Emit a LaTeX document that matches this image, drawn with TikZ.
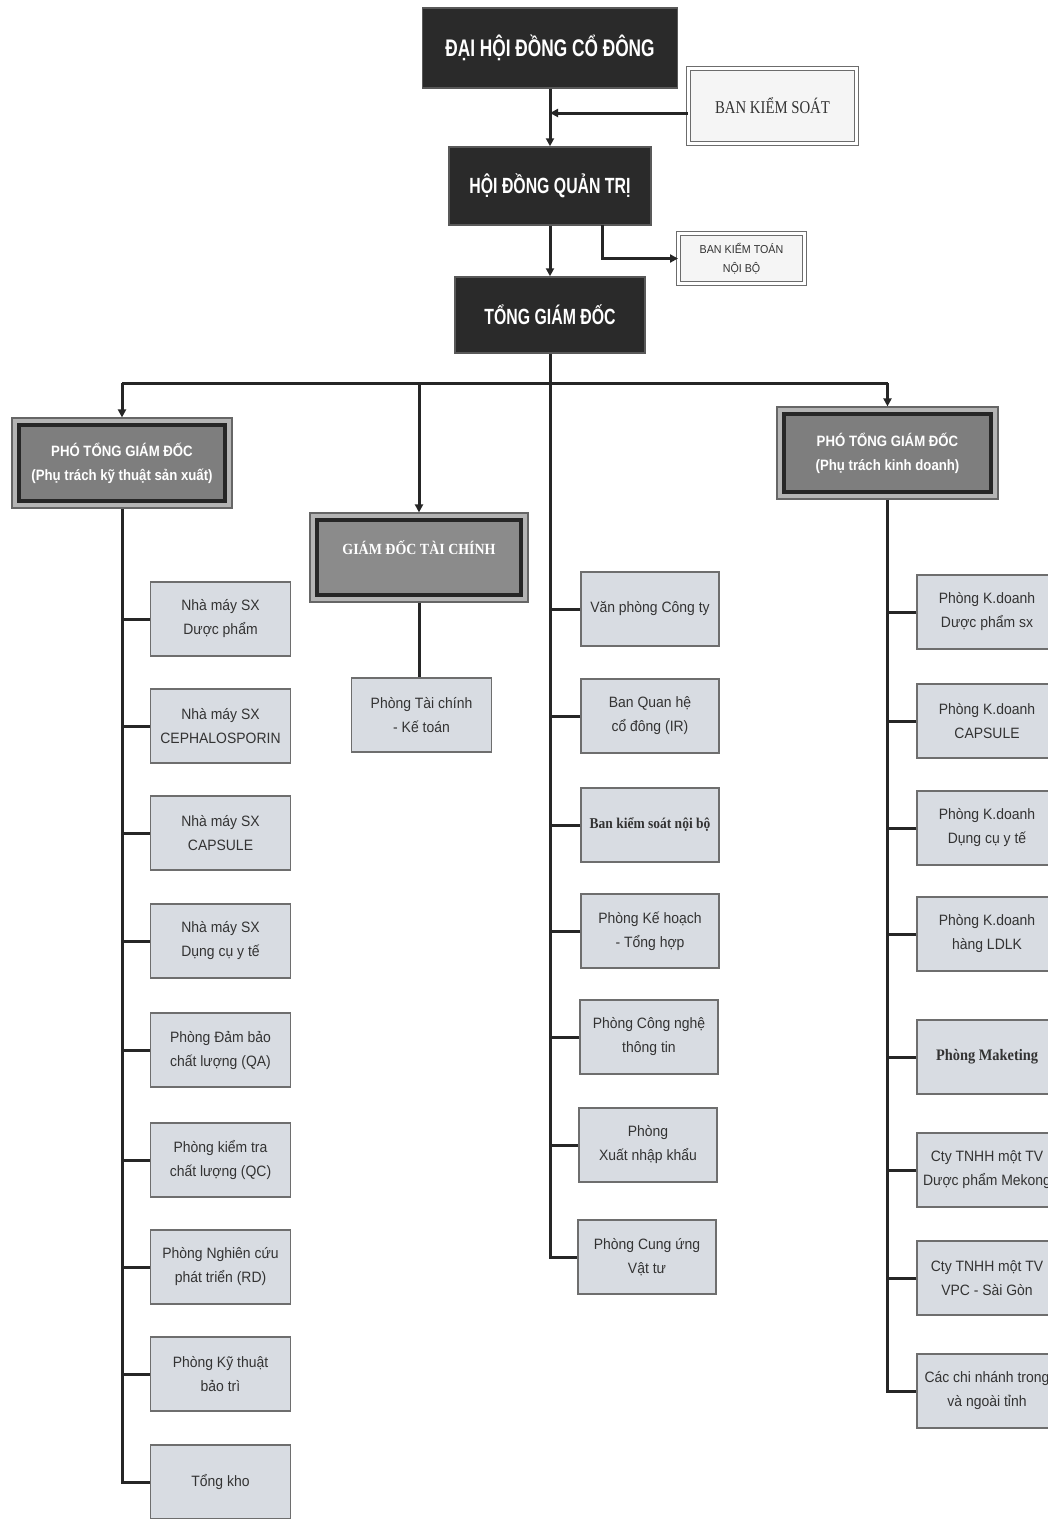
\documentclass[tikz,border=0pt]{standalone}
\usepackage{fontspec}
\setmainfont{Liberation Sans}
\newfontfamily\lbfont[FakeStretch=0.93]{Liberation Sans}
\newfontfamily\hdfont[FakeStretch=0.72]{Liberation Sans}
\newfontfamily\pfont[FakeStretch=0.88]{Liberation Sans}
\newfontfamily\sfont[FakeStretch=0.82]{Liberation Serif}
\newfontfamily\sbfont[FakeStretch=0.9]{Liberation Serif}
\usetikzlibrary{arrows.meta,calc}
\definecolor{lineC}{HTML}{262626}
\definecolor{darkC}{HTML}{2A2A2A}
\definecolor{midC}{HTML}{7E7E7E}
\definecolor{gapC}{HTML}{B4B4B4}
\definecolor{lightC}{HTML}{D8DCE2}
\definecolor{borderC}{HTML}{6E6E6E}
\definecolor{txtC}{HTML}{333333}
\begin{document}
\begin{tikzpicture}[x=1pt,y=-1pt,
  conn/.style={draw=lineC,line width=3pt},
  arr/.style={conn,-{Triangle[length=8pt,width=8pt]}},
  topbox/.style={draw=gray!70!black,fill=darkC,line width=1.5pt,text=white,
    font=\hdfont\bfseries\fontsize{24}{28}\selectfont,inner sep=0pt},
  dbox/.style={draw=gray!85!black,double=white,double distance=2.5pt,line width=1pt,
    fill=white!96!black,text=txtC,align=center,inner sep=0pt},
  frameo/.style={draw=gray!80!black,line width=1.2pt,fill=gapC,inner sep=0pt},
  framei/.style={draw=lineC,line width=4pt,fill=midC,text=white,align=center,inner sep=0pt,
    font=\pfont\bfseries\fontsize{15}{24}\selectfont},
  lbox/.style={draw=borderC,line width=1.3pt,fill=lightC,text=txtC,align=center,inner sep=1pt,
    minimum width=140pt,minimum height=74pt,font=\lbfont\fontsize{15}{24}\selectfont}
]
\fill[white] (0,0) rectangle (1048,1519);
\useasboundingbox (0,0) rectangle (1048,1519);

% top levels
\node[topbox,minimum width=255pt,minimum height=80pt] (dhd) at (550,48) {ĐẠI HỘI ĐỒNG CỔ ĐÔNG};
\node[dbox,minimum width=168pt,minimum height=75pt,font=\sfont\fontsize{18}{20}\selectfont] (bks) at (772.5,106) {BAN KIỂM SOÁT};
\node[topbox,minimum width=202pt,minimum height=78pt,font=\hdfont\bfseries\fontsize{22}{26}\selectfont] (hdqt) at (550,186) {HỘI ĐỒNG QUẢN TRỊ};
\node[dbox,minimum width=126pt,minimum height=50pt,font=\lbfont\fontsize{11.5}{19}\selectfont] (bktnb) at (741.5,258.5) {BAN KIỂM TOÁN\\NỘI BỘ};
\node[topbox,minimum width=190pt,minimum height=76pt,font=\hdfont\bfseries\fontsize{22}{26}\selectfont] (tgd) at (550,315) {TỔNG GIÁM ĐỐC};

\draw[arr] (dhd.south) -- (hdqt.north);
\draw[arr] ([yshift=-7pt]bks.west) -- ([yshift=-7pt]bks.west -| dhd.south);
\draw[arr] (hdqt.south) -- (tgd.south |- tgd.north);
\coordinate (hq) at (602,225);
\draw[arr] (hq) |- (bktnb.west);

% second level
\node[frameo,minimum width=220pt,minimum height=90pt] (ptlo) at (122,463) {};
\node[framei,minimum width=206pt,minimum height=76pt] (ptl) at (ptlo.center) {PHÓ TỔNG GIÁM ĐỐC\\(Phụ trách kỹ thuật sản xuất)};
\node[frameo,minimum width=218pt,minimum height=89pt] (gdtco) at (419,557.5) {};
\node[framei,minimum width=204pt,minimum height=75pt,fill=midC!90!white] (gdtc) at (gdtco.center) {};
\node[text=white,font=\sbfont\bfseries\fontsize{15.5}{17}\selectfont] (gdtct) at (419,548) {GIÁM ĐỐC TÀI CHÍNH};
\node[frameo,minimum width=221pt,minimum height=92pt] (ptro) at (887.5,453) {};
\node[framei,minimum width=207pt,minimum height=78pt] (ptr) at (ptro.center) {PHÓ TỔNG GIÁM ĐỐC\\(Phụ trách kinh doanh)};

\coordinate (bar) at (550,383);
\draw[conn] (bar -| ptlo.north) -- (bar -| ptro.north);
\draw[arr] (bar -| ptlo.north) -- (ptlo.north);
\draw[arr] (bar -| gdtco.north) -- (gdtco.north);
\draw[arr] (bar -| ptro.north) -- (ptro.north);

% left column
\node[lbox] (l1) at (220.5,619) {Nhà máy SX\\Dược phẩm};
\node[lbox] (l2) at (220.5,726) {Nhà máy SX\\CEPHALOSPORIN};
\node[lbox] (l3) at (220.5,833) {Nhà máy SX\\CAPSULE};
\node[lbox] (l4) at (220.5,941) {Nhà máy SX\\Dụng cụ y tế};
\node[lbox] (l5) at (220.5,1050) {Phòng Đảm bảo\\chất lượng (QA)};
\node[lbox] (l6) at (220.5,1160) {Phòng kiểm tra\\chất lượng (QC)};
\node[lbox] (l7) at (220.5,1267) {Phòng Nghiên cứu\\phát triển (RD)};
\node[lbox] (l8) at (220.5,1374) {Phòng Kỹ thuật\\bảo trì};
\node[lbox] (l9) at (220.5,1482) {Tổng kho};
\draw[conn] (ptlo.south) |- (l9.west);
\foreach \n in {l1,l2,l3,l4,l5,l6,l7,l8} \draw[conn] (\n.west) -- (\n.west -| ptlo.south);

% finance
\node[lbox] (ptc) at (421.5,715) {Phòng Tài chính\\- Kế toán};
\draw[conn] (gdtco.south) -- (gdtco.south |- ptc.north);

% middle column
\node[lbox,minimum width=138pt] (m1) at (650,609) {Văn phòng Công ty};
\node[lbox,minimum width=138pt] (m2) at (650,716) {Ban Quan hệ\\cổ đông (IR)};
\node[lbox,minimum width=138pt,font=\sbfont\bfseries\fontsize{15}{20}\selectfont] (m3) at (650,825) {Ban kiểm soát nội bộ};
\node[lbox,minimum width=138pt] (m4) at (650,931) {Phòng Kế hoạch\\- Tổng hợp};
\node[lbox,minimum width=138pt] (m5) at (649,1037) {Phòng Công nghệ\\thông tin};
\node[lbox,minimum width=138pt] (m6) at (648,1145) {Phòng\\Xuất nhập khẩu};
\node[lbox,minimum width=138pt] (m7) at (647,1257) {Phòng Cung ứng\\Vật tư};
\draw[conn] (tgd.south) |- (m7.west);
\foreach \n in {m1,m2,m3,m4,m5,m6} \draw[conn] (\n.west) -- (\n.west -| tgd.south);

% right column
\node[lbox] (r1) at (987,612) {Phòng K.doanh\\Dược phẩm sx};
\node[lbox] (r2) at (987,721) {Phòng K.doanh\\CAPSULE};
\node[lbox] (r3) at (987,828) {Phòng K.doanh\\Dụng cụ y tế};
\node[lbox] (r4) at (987,934) {Phòng K.doanh\\hàng LDLK};
\node[lbox,font=\sbfont\bfseries\fontsize{16}{20}\selectfont] (r5) at (987,1057) {Phòng Maketing};
\node[lbox] (r6) at (987,1170) {Cty TNHH một TV\\Dược phẩm Mekong};
\node[lbox] (r7) at (987,1278) {Cty TNHH một TV\\VPC - Sài Gòn};
\node[lbox] (r8) at (987,1391) {Các chi nhánh trong\\và ngoài tỉnh};
\draw[conn] (ptro.south) |- (r8.west);
\foreach \n in {r1,r2,r3,r4,r5,r6,r7} \draw[conn] (\n.west) -- (\n.west -| ptro.south);
\end{tikzpicture}
\end{document}
